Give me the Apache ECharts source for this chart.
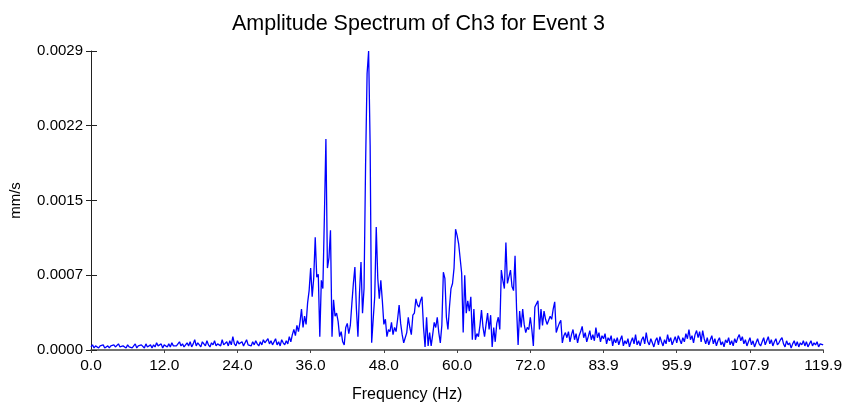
<!DOCTYPE html>
<html>
<head>
<meta charset="utf-8">
<script src="https://cdn.jsdelivr.net/npm/echarts@6/dist/echarts.min.js"></script>
<style>html,body{margin:0;padding:0;background:#fff}#c{width:845px;height:408px}</style>
</head>
<body>
<div id="c"></div>
<script>
// Amplitudes in units of 1e-5 mm/s, 4 samples per Hz (grid 0 .. 119.92 Hz, 481 samples)
const AMP_UNIT = 1e-5;
const FREQ_MAX = 119.92;
const Y_MAX = 0.00292;
const xTickCount = 10;
const yTickCount = 4;

const band0_30Hz = [
 3,5,2,4, 3,2,4,3, 5,2,3,4, 2,4,3,5, 3,2,6,3, 2,4,3,2, 5,3,4,2, 3,6,2,4, 3,5,4,2, 6,3,4,5,
 2,5,3,7, 4,3,6,2, 5,4,3,6, 3,7,4,5, 4,3,8,4, 6,3,5,7, 4,8,3,6, 10,4,7,5, 3,8,6,4, 9,5,3,7,
 5,9,4,6, 7,4,10,5, 6,8,4,9, 5,13,6,4, 9,6,5,8, 4,7,10,5, 6,4,8,5, 9,6,4,8, 5,10,7,6, 11,6,9,5
];
const band30_48Hz = [
 6,11,5,8, 4,10,7,5, 9,6,13,8, 15,20,14,24, 18,27,40,22, 33,25,46,58,
 80,52,70,110, 71,74,13,68, 60,130,206,80, 90,117,13,49, 33,36,28,13, 18,8,5,22,
 26,16,24,45, 65,81,40,13, 55,86,36,60, 180,270,292,200, 7,30,52,120, 70,50,68,48
];
const band48_78Hz = [
 25,30,13,20, 18,27,15,22, 18,30,44,26, 15,7,12,17, 32,22,15,34, 36,50,44,42,
 48,52,22,3, 32,4,17,4, 15,27,22,32, 17,7,24,76, 70,32,20,42, 60,65,80,118,
 112,104,104,75, 17,73,36,48, 38,52,10,40, 10,16,13,24, 39,22,13,25, 36,20,34,3,
 22,8,26,32, 20,78,68,60, 105,65,66,78, 62,58,92,40, 5,38,22,40, 25,17,22,20,
 32,20,4,42, 42,48,20,40, 24,38,30,25, 26,33,30,40, 47,17,22,26, 29,7,14,17
];
const band78_120Hz = [
 12,18,8,15, 20,10,16,7, 14,18,23,12, 17,8,13,19, 10,15,9,22, 12,17,8,14, 11,16,6,12,
 9,14,4,11, 7,12,5,10, 14,4,9,6, 11,3,8,12, 6,15,5,9, 4,10,13,6, 17,8,5,11,
 7,3,9,12, 5,13,8,4, 10,6,15,8, 12,5,9,13, 7,14,10,6, 12,8,16,11, 20,10,14,7,
 15,19,12,18, 8,19,11,6, 12,5,10,14, 6,11,4,9, 12,5,8,3, 10,7,12,5, 9,4,11,7,
 12,15,9,13, 6,10,4,8, 12,5,9,3, 7,11,6,4, 8,12,5,9, 13,6,10,4, 8,11,5,7,
 10,12,6,3, 9,5,7,2, 6,9,4,8, 3,7,5,9, 4,8,3,6, 9,4,7,5, 8,3,6,7, 5
];

const amps = band0_30Hz.concat(band30_48Hz, band48_78Hz, band78_120Hz);
const step = FREQ_MAX / (amps.length - 1);
const seriesData = amps.map((a, i) => [i * step, a * AMP_UNIT]);

const FONT = 'Liberation Sans, Arial, sans-serif';
const chart = echarts.init(document.getElementById('c'), null, {renderer: 'canvas'});
chart.setOption({
  animation: false,
  backgroundColor: '#ffffff',
  title: {
    text: 'Amplitude Spectrum of Ch3 for Event 3',
    left: 227, top: 8,
    textStyle: {fontFamily: FONT, fontSize: 21.5, fontWeight: 'normal', color: '#000'}
  },
  graphic: [{
    type: 'text', left: 409 - 57, top: 387,
    style: {text: 'Frequency (Hz)', font: '16px ' + FONT, fill: '#000'}
  }],
  grid: {left: 91, right: 19, top: 51, bottom: 58, containLabel: false},
  xAxis: {
    type: 'value', min: 0, max: FREQ_MAX, interval: FREQ_MAX / xTickCount,
    axisLine: {show: true, onZero: false, lineStyle: {color: '#444', width: 1.5}},
    axisTick: {show: true, length: 3, lineStyle: {color: '#444'}},
    axisLabel: {fontFamily: FONT, fontSize: 15.5, color: '#000', margin: 8,
      showMaxLabel: true, showMinLabel: true,
      formatter: v => v.toFixed(1)},
    splitLine: {show: false}
  },
  yAxis: [{
    type: 'value', min: 0, max: Y_MAX, interval: Y_MAX / yTickCount,
    name: 'mm/s', nameLocation: 'middle', nameGap: 68, nameRotate: 90,
    nameTextStyle: {fontFamily: FONT, fontSize: 15, color: '#000'},
    axisLine: {show: true, lineStyle: {color: '#222', width: 1}},
    axisTick: {show: true, length: 5, lineStyle: {color: '#222'}},
    axisLabel: {fontFamily: FONT, fontSize: 15, color: '#000', margin: 8,
      showMaxLabel: true, formatter: v => v.toFixed(4)},
    splitLine: {show: false}
  }, {
    type: 'value', min: 0, max: Y_MAX, interval: Y_MAX / yTickCount, position: 'left',
    axisLine: {show: false},
    axisTick: {show: true, inside: true, length: 6, lineStyle: {color: '#222'}},
    axisLabel: {show: false},
    splitLine: {show: false}
  }],
  series: [{
    type: 'line', data: seriesData, showSymbol: false, symbol: 'none',
    lineStyle: {color: '#0000ff', width: 1.3},
    yAxisIndex: 0
  }]
});
</script>
</body>
</html>
